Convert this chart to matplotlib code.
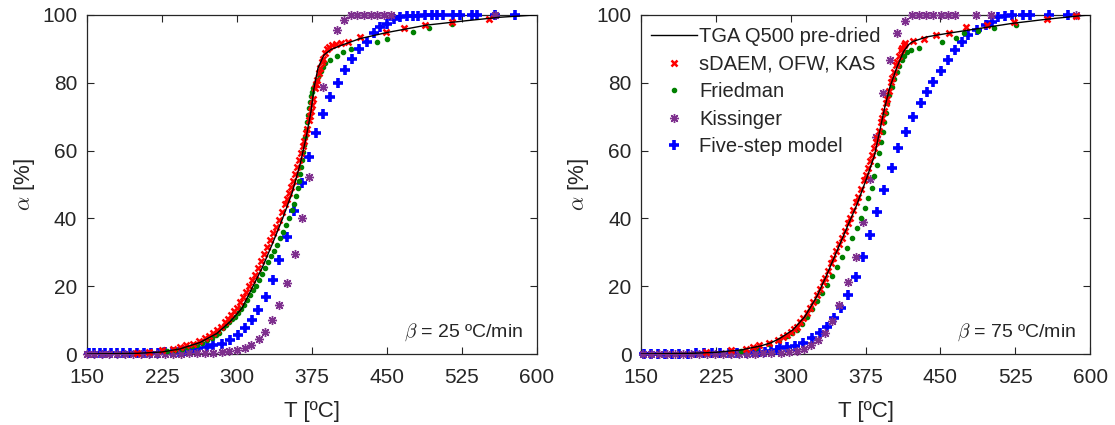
import matplotlib
matplotlib.use("Agg")
import matplotlib.pyplot as plt

plt.rcParams["font.family"] = ["Liberation Sans", "DejaVu Sans"]
plt.rcParams["mathtext.fontset"] = "cm"

# ---- beta = 25 C/min ----
tga25_T = [150, 200, 225, 243, 263, 280, 293, 305, 315, 325, 335, 345, 355, 363, 369, 374, 377, 381, 387, 394, 405, 423, 450, 490, 530, 563, 600]
tga25_a = [0, 0.2, 0.6, 1.5, 3.4, 6.1, 9.5, 13.5, 19.4, 25.3, 32.2, 39.5, 47.4, 55.8, 63.6, 71.5, 78.4, 84.3, 88.2, 89.8, 91.1, 93.0, 94.8, 97.0, 98.3, 99.3, 100]

sdaem25_T = [200, 212, 225, 236, 243, 249, 256, 262, 268, 272, 276, 280, 284, 288, 291, 294, 297, 300, 303, 306,
             309, 312, 315, 318, 321, 324, 327, 330, 333, 336, 339, 342, 345, 348, 350, 352, 354, 356, 358, 360,
             362, 364, 366, 367, 369, 370, 372, 373, 374, 375, 376, 378, 379, 380, 382, 383, 385, 386, 388, 390,
             392, 395, 399, 404, 411, 423, 449, 467, 488, 515, 552]
sdaem25_a = [0.3, 0.6, 1.2, 1.6, 2.2, 2.6, 3.1, 3.8, 4.6, 5.3, 6.1, 7.0, 8.0, 9.3, 10.3, 11.4, 12.6, 13.7, 15.2, 16.8,
             18.4, 20.2, 21.9, 23.4, 25.5, 27.5, 29.6, 31.6, 33.5, 35.6, 37.6, 39.5, 41.8, 44.2, 45.6, 47.4, 49.2, 51.0, 53.0, 55.0,
             57.2, 59.3, 61.4, 62.8, 65.1, 66.4, 68.9, 70.3, 71.8, 73.4, 75.2, 78.3, 79.6, 80.8, 83.0, 84.2, 86.0, 87.1, 88.7, 89.9,
             90.6, 91.0, 91.3, 91.6, 92.1, 93.4, 94.9, 96.1, 97.1, 97.9, 98.8]

fried25_T = [230, 238, 245, 250, 255, 260, 265, 270, 275, 279, 282, 286, 289, 292, 295, 298, 301, 304, 307, 310,
             313, 316, 319, 322, 325, 328, 331, 334, 337, 340, 343, 346, 349, 352, 355, 357, 359, 361, 362, 363,
             364, 365, 366, 367, 368, 369, 370, 371, 372, 373, 374, 375, 376, 378, 380, 382, 384, 386, 388, 393,
             400, 406, 414, 440, 450, 476, 492, 515]
fried25_a = [0.8, 1.2, 1.6, 2.0, 2.3, 2.8, 3.3, 4.0, 4.8, 5.5, 6.2, 7.6, 8.5, 9.3, 10.2, 11.0, 12.1, 13.3, 14.5, 15.8,
             17.3, 18.8, 20.1, 21.8, 23.6, 25.3, 27.1, 28.8, 30.4, 32.2, 34.1, 36.0, 37.9, 40.0, 42.4, 44.2, 46.5, 49.0, 51.0, 53.0,
             55.2, 57.3, 59.5, 61.7, 64.0, 66.2, 68.3, 70.5, 72.6, 74.4, 76.0, 77.3, 78.5, 79.7, 80.8, 82.3, 83.5, 84.7, 85.8, 86.8,
             87.9, 89.1, 89.8, 91.9, 92.9, 94.9, 96.1, 97.3]

kiss25_T = [150, 157, 165, 172, 180, 188, 196, 204, 212, 220, 228, 236, 244, 252, 260, 268, 276, 285, 292, 300,
            308, 314, 322, 328, 335, 342, 350, 358, 365, 372, 386, 400, 407, 414, 420, 427, 434, 440, 447, 454, 558]
kiss25_a = [0, 0, 0, 0, 0, 0, 0, 0, 0, 0, 0.1, 0.1, 0.1, 0.2, 0.2, 0.3, 0.4, 0.7, 0.9, 1.2,
            1.7, 2.7, 4.3, 6.6, 10.0, 14.5, 21.0, 29.5, 40.0, 52.1, 78.6, 95.4, 98.5, 100, 100, 100, 100, 100, 100, 100, 100]

five25_T = [152, 157, 163, 168, 174, 180, 186, 193, 200, 207, 214, 221, 228, 235, 242, 248, 256, 261, 270, 276,
            285, 293, 301, 308, 315, 321, 329, 336, 342, 350, 357, 365, 372, 379, 386, 393, 401, 408, 415, 422,
            430, 437, 443, 450, 457, 463, 470, 476, 481, 488, 495, 500, 506, 516, 523, 535, 540, 558, 578]
five25_a = [0.2, 0.2, 0.2, 0.2, 0.2, 0.2, 0.2, 0.2, 0.3, 0.3, 0.3, 0.4, 0.5, 0.6, 0.7, 0.9, 1.4, 1.7, 2.2, 2.6,
            3.1, 4.1, 5.6, 7.6, 10.0, 12.9, 16.9, 21.8, 27.7, 34.5, 42.1, 50.3, 58.1, 65.2, 70.8, 75.7, 80.0, 83.6, 86.9, 89.9,
            92.1, 94.6, 96.3, 97.2, 98.8, 99.5, 99.7, 99.8, 99.8, 99.9, 99.9, 99.9, 100, 100, 100, 100, 100, 100, 100]

# ---- beta = 75 C/min ----
tga75_T = [150, 200, 225, 250, 270, 280, 289, 302, 314, 326, 336, 346, 356, 366, 376, 384, 389, 394, 399, 406,
           413, 418, 422, 436, 456, 489, 522, 556, 589, 600]
tga75_a = [0, 0.2, 0.5, 1.2, 2.4, 3.3, 4.6, 7.1, 11.0, 16.9, 23.3, 30.2, 37.1, 43.9, 51.8, 58.7, 65.6, 72.5, 78.4, 84.3,
           89.2, 91.2, 92.1, 93.5, 94.5, 96.0, 97.5, 98.7, 99.7, 100]

sdaem75_T = [215, 240, 255, 262, 268, 278, 287, 292, 296, 300, 303, 306, 309, 312, 316, 319, 322, 326, 329, 332,
             334, 337, 340, 342, 345, 348, 351, 354, 357, 359, 362, 365, 367, 370, 373, 375, 377, 379, 381, 383,
             385, 386, 388, 390, 391, 393, 395, 396, 398, 400, 401, 403, 405, 406, 408, 410, 411, 413, 414, 422,
             433, 446, 459, 476, 497, 524, 557, 586]
sdaem75_a = [0.5, 1.2, 1.6, 2.1, 2.6, 3.2, 4.2, 5.0, 5.7, 6.6, 7.3, 8.1, 9.3, 10.5, 12.0, 13.6, 15.2, 17.4, 19.3, 21.1,
             22.3, 24.5, 26.8, 28.2, 30.3, 32.3, 34.1, 36.4, 38.6, 40.0, 42.4, 44.8, 46.4, 48.8, 51.2, 52.8, 54.8, 56.8, 58.7, 60.7,
             62.6, 63.6, 65.9, 68.3, 69.5, 71.8, 74.1, 75.3, 77.6, 80.1, 81.3, 83.3, 85.3, 86.2, 88.0, 89.7, 90.2, 91.2, 91.7, 92.3,
             93.0, 94.1, 94.8, 96.4, 97.0, 98.0, 98.7, 99.6]

fried75_T = [250, 265, 278, 288, 296, 301, 306, 311, 316, 321, 326, 331, 336, 341, 346, 351, 356, 361, 366, 370,
             374, 377, 381, 383, 386, 388, 390, 392, 393, 395, 396, 398, 401, 403, 406, 408, 411, 413, 416, 420,
             428, 452, 466, 474, 488, 504, 526]
fried75_a = [1.0, 1.8, 3.0, 4.0, 5.2, 6.2, 7.1, 9.0, 11.0, 13.2, 15.5, 17.9, 20.4, 23.1, 25.8, 28.5, 31.2, 34.2, 37.1, 40.0,
             43.0, 46.0, 48.9, 52.5, 55.8, 59.2, 62.6, 65.5, 68.5, 71.2, 73.9, 76.4, 78.8, 81.0, 83.3, 85.0, 86.7, 88.0, 89.2, 89.5,
             90.2, 91.9, 93.2, 94.6, 95.2, 96.2, 97.0]

kiss75_T = [152, 160, 168, 176, 184, 192, 200, 208, 216, 224, 232, 240, 248, 256, 264, 272, 280, 290, 298, 306,
            313, 320, 327, 334, 341, 348, 357, 365, 372, 379, 385, 392, 399, 406, 414, 421, 428, 436, 443, 451,
            458, 465, 486, 501, 586]
kiss75_a = [0, 0, 0, 0, 0, 0, 0, 0, 0, 0, 0, 0, 0.1, 0.1, 0.1, 0.2, 0.2, 0.3, 0.6, 1.0,
            1.6, 2.6, 4.0, 6.3, 9.8, 14.5, 21.1, 28.7, 38.9, 51.5, 64.0, 77.0, 86.8, 94.7, 98.3, 100, 100, 100, 100, 100,
            100, 100, 100, 100, 100]

five75_T = [153, 160, 167, 174, 181, 188, 197, 205, 213, 221, 229, 238, 246, 255, 262, 268, 274, 280, 286, 289,
            296, 304, 312, 321, 329, 336, 343, 350, 357, 365, 372, 379, 386, 393, 401, 407, 415, 422, 430, 437,
            443, 451, 458, 465, 472, 478, 487, 496, 502, 508, 515, 522, 533, 540, 559, 578]
five75_a = [0.1, 0.1, 0.1, 0.1, 0.1, 0.1, 0.1, 0.2, 0.2, 0.2, 0.2, 0.3, 0.3, 0.4, 0.5, 0.6, 0.7, 0.8, 1.2, 1.7,
            2.1, 2.5, 3.2, 4.6, 6.1, 8.0, 10.5, 13.6, 17.4, 22.8, 28.7, 35.1, 42.0, 48.4, 54.9, 60.7, 65.6, 70.0, 73.9, 77.4,
            80.3, 83.5, 86.6, 89.6, 92.1, 94.1, 95.4, 97.0, 98.0, 99.5, 99.8, 99.9, 100, 100, 100, 100]

x_ticks = [150, 225, 300, 375, 450, 525, 600]
y_ticks = [0, 20, 40, 60, 80, 100]
labels = ["TGA Q500 pre-dried", "sDAEM, OFW, KAS", "Friedman", "Kissinger", "Five-step model"]

AX_COLOR = "#262626"
PURPLE = "#7E2F8E"
GREEN = "#008000"

fig = plt.figure(figsize=(11.15, 4.25), dpi=100)
ax1 = fig.add_axes([0.078, 0.167, 0.4036, 0.798])
ax2 = fig.add_axes([0.575, 0.167, 0.4027, 0.798])

panels = [
    (ax1, "25", tga25_T, tga25_a, sdaem25_T, sdaem25_a, fried25_T, fried25_a, kiss25_T, kiss25_a, five25_T, five25_a),
    (ax2, "75", tga75_T, tga75_a, sdaem75_T, sdaem75_a, fried75_T, fried75_a, kiss75_T, kiss75_a, five75_T, five75_a),
]

for ax, beta, tT, ta, sT, sa, fT, fa, kT, ka, bT, ba in panels:
    ax.plot(tT, ta, color="black", linewidth=1.0, label=labels[0], zorder=6)
    ax.plot(sT, sa, linestyle="none", marker="x", color="red", markersize=5, markeredgewidth=1.8,
            label=labels[1], zorder=5, clip_on=False)
    ax.plot(fT, fa, linestyle="none", marker=".", color=GREEN, markersize=6, label=labels[2], zorder=4, clip_on=False)
    ax.plot(kT, ka, linestyle="none", marker=(8, 2, 0), color=PURPLE, markersize=6.5, markeredgewidth=1.0,
            label=labels[3], zorder=3, clip_on=False)
    ax.plot(bT, ba, linestyle="none", marker="+", color="blue", markersize=7.5, markeredgewidth=2.6,
            label=labels[4], zorder=2, clip_on=False)

    ax.set_xlim(150, 600)
    ax.set_ylim(0, 100)
    ax.set_xticks(x_ticks)
    ax.set_yticks(y_ticks)
    ax.tick_params(direction="in", top=True, right=True, length=5, width=0.8,
                   labelsize=15, colors=AX_COLOR)
    ax.tick_params(axis="x", pad=10)
    ax.tick_params(axis="y", pad=7)
    for sp in ax.spines.values():
        sp.set_color(AX_COLOR)
        sp.set_linewidth(0.9)
        sp.set_zorder(1)
    ax.set_xlabel("T [ºC]", fontsize=16, color=AX_COLOR, labelpad=10)
    ax.set_ylabel(r"$\alpha$ [%]", fontsize=16, color=AX_COLOR, labelpad=4)
    ax.text(0.969, 0.05, r"$\beta$ = " + beta + " ºC/min", transform=ax.transAxes,
            ha="right", va="baseline", fontsize=14, color=AX_COLOR)

ax2.legend(loc="upper left", bbox_to_anchor=(0.022, 0.963), frameon=False, fontsize=14.5,
           handlelength=2.3, handletextpad=0.1, borderaxespad=0, borderpad=0, labelspacing=0.42,
           labelcolor=AX_COLOR)

fig.savefig("out.png", dpi=100)
